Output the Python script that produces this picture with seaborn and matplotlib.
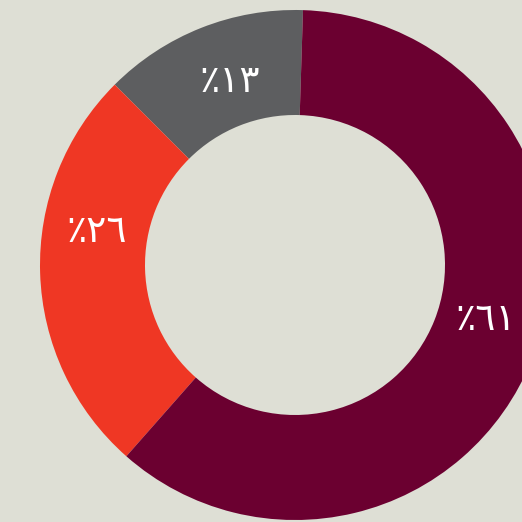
import numpy as np
import matplotlib
matplotlib.use("Agg")
import matplotlib.pyplot as plt
import seaborn as sns

# slice data (counter-clockwise from the top)
labels = ["٪١٣", "٪٢٦", "٪٦١"]
values = [13, 26, 61]
colors = ["#5d5e60", "#ef3724", "#6b0030"]

# where each label sits (angle in degrees, radius as fraction of outer radius)
label_angles = [109.5, 170.5, -16]
label_radii = [0.76, 0.79, 0.78]

sns.set_theme(style="white")
plt.rcParams["font.family"] = ["DejaVu Sans"]

bg = "#dedfd5"
fig = plt.figure(figsize=(5.22, 5.22), dpi=100)
fig.patch.set_facecolor(bg)
ax = fig.add_axes([0, 0, 1, 1])
ax.set_facecolor(bg)

R = 255.0
wedges, _ = ax.pie(values, colors=colors, startangle=88.2, counterclock=True,
                   radius=1.0, wedgeprops=dict(width=105 / R, linewidth=0))

for lab, ang, r in zip(labels, label_angles, label_radii):
    a = np.deg2rad(ang)
    ax.text(r * np.cos(a), r * np.sin(a), lab,
            ha="center", va="center", color="white", fontsize=27)

# pie centre at pixel (295, 265), outer radius 255 px
ax.set_xlim(-295 / R, 227 / R)
ax.set_ylim(-257 / R, 265 / R)
ax.set_aspect("equal")
ax.axis("off")

fig.savefig("out.png", dpi=100, facecolor=bg)
